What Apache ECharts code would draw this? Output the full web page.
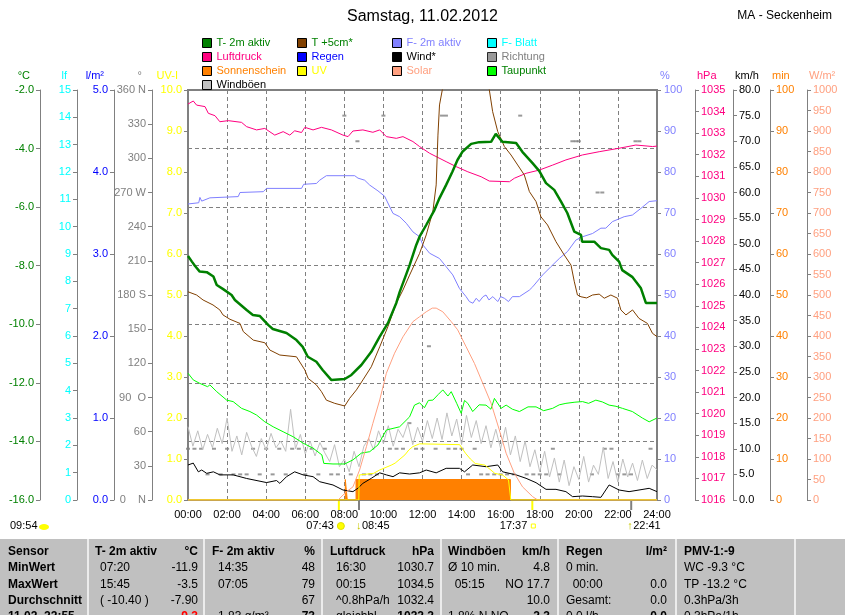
<!DOCTYPE html>
<html>
<head>
<meta charset="utf-8">
<title>Samstag, 11.02.2012</title>
<script src="https://cdn.jsdelivr.net/npm/echarts@6/dist/echarts.min.js"></script>
<style>
html, body { margin: 0; padding: 0; background: #fff; }
#chart { width: 845px; height: 615px; }
</style>
</head>
<body>
<div id="chart"></div>
<script>
var FONT = '"Liberation Sans", Arial, sans-serif';

// Zeit in Stunden (0..24)
// T- 2m aktiv (°C)
var t2Time = [0, 0.2, 0.36, 0.6, 0.96, 1.3, 1.47, 1.8, 2.23, 2.4, 3.0, 3.32, 3.68, 4.1, 4.34, 5.04, 5.55, 5.87, 6.13, 6.57, 6.89, 7.33, 8.02, 8.36, 8.87, 9.38, 9.81, 10.23, 10.66, 10.83, 11.34, 11.68, 11.85, 12.19, 12.61, 12.87, 13.21, 13.53, 13.79, 14.04, 14.49, 14.9, 15.51, 15.75, 16.09, 16.79, 17.11, 17.62, 17.98, 18.32, 18.74, 19.09, 19.41, 19.77, 20.11, 20.17, 20.79, 21.13, 21.55, 21.71, 22.06, 22.22, 22.73, 23.17, 23.43, 24];
var t2Val = [-7.67, -7.86, -8.01, -8.2, -8.22, -8.37, -8.66, -8.8, -9.0, -9.17, -9.51, -9.68, -9.72, -10.02, -10.16, -10.3, -10.54, -10.77, -11.11, -11.28, -11.56, -11.9, -11.87, -11.73, -11.39, -10.94, -10.42, -9.96, -9.27, -8.9, -7.98, -7.29, -7.01, -6.61, -6.1, -5.69, -5.24, -4.79, -4.39, -4.11, -3.84, -3.78, -3.77, -3.5, -3.77, -3.81, -4.11, -4.49, -4.77, -5.18, -5.41, -5.81, -6.2, -6.84, -6.95, -7.18, -7.18, -7.4, -7.46, -7.63, -7.86, -8.15, -8.38, -8.76, -9.27, -9.27];

// T +5cm* (°C)
var t5Time = [0, 0.44, 0.77, 1.28, 1.63, 1.79, 2.15, 2.66, 2.83, 3.34, 3.93, 4.19, 4.7, 5.55, 5.98, 6.15, 6.57, 6.83, 7.08, 7.51, 8.02, 8.27, 8.62, 8.95, 9.38, 9.81, 10.23, 10.66, 11.0, 11.34, 11.85, 12.19, 12.53, 12.7, 12.79, 12.87, 13.04, 13.3, 14.0, 14.8, 15.42, 15.59, 15.85, 16.19, 16.53, 16.87, 17.21, 17.47, 17.81, 18.06, 18.4, 18.83, 19.25, 19.6, 19.77, 19.93, 20.11, 20.4, 20.7, 21.04, 21.3, 21.64, 21.98, 22.15, 22.41, 22.75, 23.08, 23.51, 23.77, 24];
var t5Val = [-8.89, -9.0, -9.17, -9.34, -9.51, -9.68, -9.83, -9.97, -10.25, -10.54, -10.63, -10.88, -11.05, -11.11, -11.56, -11.85, -12.07, -12.3, -12.59, -12.7, -12.79, -12.53, -12.24, -11.9, -11.45, -10.77, -10.08, -9.28, -8.83, -8.32, -7.58, -6.95, -6.15, -5.24, -3.54, -2.51, -1.9, -0.5, 2.0, 0.5, -2.0, -2.74, -3.42, -3.93, -4.22, -4.56, -4.9, -5.47, -5.81, -6.33, -6.61, -7.18, -7.63, -7.98, -8.55, -9.0, -9.06, -9.1, -9.0, -8.97, -9.11, -9.0, -9.11, -9.51, -9.68, -9.51, -9.8, -9.97, -10.31, -10.42];

// F- 2m aktiv (%)
var humTime = [0, 0.55, 0.61, 0.7, 1.12, 2.57, 2.66, 3.85, 4.02, 5.81, 5.92, 6.57, 6.74, 7.08, 8.53, 8.7, 9.04, 9.3, 9.72, 10.06, 10.49, 10.83, 11.17, 11.51, 11.85, 12.02, 12.36, 12.87, 13.21, 13.55, 13.89, 14.23, 14.4, 14.58, 14.75, 14.9, 15.1, 15.25, 15.4, 15.6, 15.85, 16.0, 16.19, 16.4, 16.6, 16.96, 17.47, 17.64, 18.15, 18.57, 19.0, 19.42, 19.85, 20.19, 20.7, 21.13, 21.38, 21.72, 22.32, 22.74, 23.17, 23.6, 24];
var humVal = [72.2, 72.5, 73.8, 72.9, 73.7, 74, 75, 75.2, 76, 76, 77, 77.2, 78, 79.1, 79.1, 78.5, 78, 76.8, 75.4, 74.1, 69.9, 69.1, 67.5, 65.4, 64.2, 62.2, 60.2, 58.9, 56.9, 54.9, 51.6, 49.6, 48.4, 48, 49.2, 48.4, 49.6, 50, 48.8, 49.6, 48.4, 49.6, 49.2, 48.4, 49.6, 49.6, 51.2, 52, 54.9, 56.9, 58.9, 60.6, 63.4, 64.2, 65, 66.3, 66.3, 67.9, 69.1, 69.5, 71.1, 72.8, 73];

// Luftdruck (hPa)
var presTime = [0, 0.27, 0.44, 0.87, 1.04, 1.38, 1.63, 2.06, 2.74, 3.0, 3.51, 3.93, 4.44, 4.87, 5.21, 5.46, 5.81, 5.98, 6.4, 6.83, 7.34, 7.93, 8.19, 8.44, 8.95, 9.46, 9.81, 10.15, 10.66, 11.0, 11.51, 11.85, 12.36, 13.21, 13.72, 14.32, 15.0, 15.42, 16.45, 16.7, 17.3, 17.98, 18.66, 19.34, 20.19, 21.04, 22.06, 22.92, 23.77, 24];
var presVal = [1034.35, 1034.49, 1034.3, 1034.23, 1033.92, 1033.81, 1033.53, 1033.58, 1033.5, 1033.3, 1033.15, 1033.22, 1032.91, 1033.07, 1032.91, 1033.11, 1033.03, 1033.27, 1033.15, 1033.27, 1033.15, 1032.91, 1032.84, 1033.1, 1033.15, 1033.04, 1033.15, 1032.84, 1032.76, 1032.84, 1032.61, 1032.38, 1032.07, 1031.68, 1031.45, 1031.21, 1030.98, 1030.78, 1030.75, 1030.91, 1031.14, 1031.29, 1031.52, 1031.76, 1031.99, 1032.14, 1032.3, 1032.45, 1032.38, 1032.4];

// Solar (W/m²)
var solTime = [0, 7.68, 8.1, 8.44, 8.78, 9.13, 9.46, 9.81, 10.15, 10.57, 11.0, 11.51, 11.85, 12.19, 12.5, 12.7, 13.04, 13.47, 13.8, 14.23, 14.66, 15.08, 15.51, 15.93, 16.28, 16.7, 17.12, 17.64, 17.9, 24];
var solVal = [0, 0, 20, 32, 73, 130, 187, 244, 309, 358, 398, 435, 447, 459, 468, 468, 459, 435, 415, 374, 333, 285, 236, 171, 114, 65, 32, 8, 0, 0];

// UV-Index
var uvTime = [0, 8.74, 8.76, 9.5, 9.8, 10.4, 10.6, 11.1, 11.3, 11.5, 11.85, 13.9, 14.2, 14.45, 14.7, 15.2, 15.7, 16.1, 16.4, 16.5, 16.52, 24];
var uvVal = [0, 0, 0.61, 0.65, 0.73, 0.85, 0.9, 1.1, 1.22, 1.3, 1.37, 1.35, 1.14, 1.0, 0.89, 0.85, 0.65, 0.61, 0.49, 0.49, 0, 0];

// Sonnenschein (min)
var sunTime = [0, 8.05, 8.05, 8.15, 8.15, 8.6, 8.6, 16.5, 16.5, 24];
var sunVal = [0, 0, 5, 5, 0, 0, 5, 5, 0, 0];

// Wind* (km/h)
var windTime = [0, 0.27, 0.53, 0.7, 0.96, 1.3, 1.63, 2.31, 3.0, 4.02, 4.53, 4.7, 5.04, 5.46, 5.89, 6.4, 6.74, 7.42, 7.93, 8.44, 8.7, 8.95, 9.38, 9.81, 10.15, 10.49, 10.83, 11.34, 11.85, 12.19, 12.7, 13.21, 13.89, 14.15, 14.57, 15.25, 15.85, 16.1, 16.79, 17.3, 17.81, 18.32, 18.83, 19.34, 19.68, 20.19, 20.7, 21.13, 21.55, 22.06, 22.57, 23.08, 23.6, 24];
var windVal = [6.83, 7.2, 5.5, 5.85, 5.2, 5.5, 4.9, 4.9, 4.2, 3.4, 3.8, 3.25, 4.55, 5.5, 4.9, 4.55, 3.57, 2.93, 1.95, 1.63, 2.3, 3.25, 4.23, 5.3, 4.9, 4.55, 5.3, 5.07, 5.3, 5.85, 5.3, 6.18, 6.18, 5.5, 6.83, 6.5, 6.83, 5.5, 4.9, 4.23, 3.38, 2.08, 2.08, 1.63, 0.65, 0.78, 0.65, 0.52, 2.93, 1.95, 1.63, 1.95, 2.28, 1.63];

// Windböen (km/h)
var gustTime = [0, 0.25, 0.5, 0.75, 1, 1.25, 1.5, 1.75, 2, 2.25, 2.5, 2.75, 3, 3.25, 3.5, 3.75, 4, 4.25, 4.5, 4.75, 5, 5.25, 5.5, 5.75, 6, 6.25, 6.5, 6.75, 7, 7.25, 7.5, 7.75, 8, 8.25, 8.5, 8.75, 9, 9.25, 9.5, 9.75, 10, 10.25, 10.5, 10.75, 11, 11.25, 11.5, 11.75, 12, 12.25, 12.5, 12.75, 13, 13.25, 13.5, 13.75, 14, 14.25, 14.5, 14.75, 15, 15.25, 15.5, 15.75, 16, 16.25, 16.5, 16.75, 17, 17.25, 17.5, 17.75, 18, 18.25, 18.5, 18.75, 19, 19.25, 19.5, 19.75, 20, 20.25, 20.5, 20.75, 21, 21.25, 21.5, 21.75, 22, 22.25, 22.5, 22.75, 23, 23.25, 23.5, 23.75, 24];
var gustVal = [14.3, 10.5, 13.5, 9.8, 12.8, 10.2, 14.0, 11.0, 16.0, 9.5, 12.5, 8.8, 13.2, 10.5, 8.5, 12.0, 9.8, 13.0, 10.2, 11.5, 9.5, 17.7, 10.0, 12.8, 9.0, 11.5, 8.6, 11.2, 9.2, 7.5, 10.8, 6.5, 8.0, 5.5, 9.5, 6.5, 10.5, 12.0, 9.8, 13.5, 11.0, 14.5, 10.5, 13.8, 12.2, 15.0, 10.8, 14.2, 11.5, 15.5, 12.0, 16.0, 11.8, 17.0, 12.5, 15.8, 10.8, 16.5, 12.2, 15.5, 11.0, 14.5, 10.2, 13.8, 10.0, 14.2, 8.8, 12.5, 7.5, 11.5, 6.5, 9.8, 5.5, 9.5, 4.5, 8.2, 3.5, 7.8, 2.8, 6.5, 4.0, 8.5, 3.5, 6.8, 5.0, 10.3, 4.2, 7.5, 3.5, 8.0, 4.5, 7.2, 3.8, 7.8, 4.2, 6.8, 5.9];

// Taupunkt (°C)
var dewTime = [0, 0.27, 0.61, 1.0, 1.12, 1.47, 1.98, 2.31, 2.74, 3.17, 3.51, 3.93, 4.36, 4.87, 5.38, 5.89, 6.4, 6.85, 6.95, 7.42, 8.02, 8.44, 8.87, 9.3, 9.72, 10.15, 10.83, 11.34, 11.59, 11.85, 12.1, 12.3, 12.53, 12.8, 13.04, 13.3, 13.47, 13.75, 13.98, 14.15, 14.32, 14.57, 14.9, 15.25, 15.5, 15.68, 16.02, 16.28, 16.6, 16.96, 17.4, 17.81, 18.2, 18.66, 19.0, 19.34, 19.8, 20.19, 20.5, 20.87, 21.2, 21.55, 21.9, 22.23, 22.74, 23.25, 23.6, 24];
var dewVal = [-11.67, -11.9, -12.02, -12.13, -12.07, -12.3, -12.59, -12.64, -12.87, -12.98, -13.1, -13.33, -13.5, -13.67, -13.84, -14.06, -14.23, -14.46, -14.75, -14.77, -14.77, -14.63, -14.4, -14.35, -14.12, -13.61, -13.5, -13.16, -12.76, -12.68, -12.85, -12.6, -12.59, -12.4, -12.24, -12.45, -12.3, -12.7, -13.04, -12.6, -12.7, -12.98, -12.75, -12.76, -12.9, -12.53, -12.87, -12.76, -12.9, -12.98, -12.82, -12.82, -12.95, -12.87, -12.75, -12.7, -12.66, -12.64, -12.7, -12.59, -12.65, -12.76, -12.8, -12.87, -12.98, -13.2, -13.33, -13.2];

// Richtung (°)
var dirTime = [0, 0.33, 0.67, 1, 1.33, 1.67, 2, 2.33, 2.67, 3, 3.33, 3.67, 4, 4.33, 4.67, 5, 5.33, 5.67, 6, 6.33, 6.67, 7, 7.33, 7.67, 8, 8.33, 8.67, 9, 9.33, 9.67, 10, 10.33, 10.67, 11, 11.33, 11.67, 12, 12.33, 12.67, 13, 13.2, 13.33, 13.67, 14, 14.33, 14.67, 15, 15.33, 15.67, 16, 16.33, 16.67, 17, 17.33, 17.67, 18, 18.33, 18.67, 19, 19.67, 19.85, 20, 20.67, 20.96, 21.2, 21.33, 21.67, 22, 22.33, 22.67, 22.9, 23.1, 23.67];
var dirVal = [45, 45, 45, 22.5, 45, 22.5, 45, 22.5, 22.5, 22.5, 45, 22.5, 45, 22.5, 45, 22.5, 45, 45, 22.5, 45, 22.5, 45, 22.5, 22.5, 337.5, 22.5, 315, 22.5, 22.5, 22.5, 337.5, 45, 45, 45, 67.5, 45, 45, 135, 45, 337.5, 337.5, 45, 45, 45, 22.5, 45, 22.5, 22.5, 22.5, 22.5, 22.5, 22.5, 337.5, 22.5, 22.5, 22.5, 22.5, 45, 22.5, 315, 315, 315, 22.5, 270, 270, 45, 45, 22.5, 22.5, 22.5, 315, 315, 45];

// Beschriftung Richtungsachse
var dirTicks = { 0: '0    N', 90: '90  O', 180: '180 S', 270: '270 W', 360: '360 N' };

// Sonne / Mond Zeiten unter der Zeitachse
var sunRise = { t: 7.72, label: '07:43' };
var moonSet = { t: 8.75, label: '08:45' };
var sunSet = { t: 17.62, label: '17:37' };
var moonRise = { t: 22.68, label: '22:41' };

// Tabelle
var tableHead = ['Sensor', 'T- 2m aktiv', '°C', 'F- 2m aktiv', '%', 'Luftdruck', 'hPa', 'Windböen', 'km/h', 'Regen', 'l/m²', 'PMV-1:-9'];
var tableRows = [
    ['MinWert', '07:20', '-11.9', '14:35', '48', '16:30', '1030.7', 'Ø 10 min.', '4.8', '0 min.', '', 'WC -9.3 °C'],
    ['MaxWert', '15:45', '-3.5', '07:05', '79', '00:15', '1034.5', '  05:15', 'NO 17.7', '  00:00', '0.0', 'TP -13.2 °C'],
    ['Durchschnitt', '( -10.40 )', '-7.90', '', '67', '^0.8hPa/h', '1032.4', '', '10.0', 'Gesamt:', '0.0', '0.3hPa/3h'],
    ['11.02. 22:55', '', '-9.3', '1.83 g/m³', '73', 'gleichbl.', '1032.2', '1.8% N NO', '2.3', '0.0 l/h', '0.0', '0.3hPa/1h']
];

function pairs(xs, ys) {
    return xs.map(function (x, i) { return [x, ys[i]]; });
}

var chart = echarts.init(document.getElementById('chart'));

// eine y-Achse
function yAx(pos, offset, min, max, step, color, name, fmt) {
    return {
        type: 'value', position: pos, offset: offset,
        min: min, max: max, interval: step,
        name: name, nameLocation: 'end', nameGap: 9,
        nameTextStyle: {
            color: color, fontSize: 11, fontFamily: FONT,
            align: pos === 'left' ? 'right' : 'left',
            padding: pos === 'left' ? [0, 10, 0, 0] : [0, 0, 0, 2]
        },
        axisLine: { show: true, onZero: false, lineStyle: { color: '#808080', width: 1 } },
        axisTick: { show: true, length: 4, lineStyle: { color: '#808080' } },
        axisLabel: { color: color, fontSize: 11, fontFamily: FONT, margin: 6, formatter: fmt || plain },
        splitLine: { show: false }
    };
}
function f1(v) { return v.toFixed(1); }
function plain(v) { return String(v); }

var tempAxis = yAx('left', 148, -16, -2, 2, '#008000', '°C', f1);
tempAxis.splitLine = { show: true, lineStyle: { color: '#808080', type: [4, 3], width: 1 } };

var yAxes = [
    tempAxis,                                                              // 0 °C
    yAx('left', 111, 0, 15, 1, '#00ffff', 'lf'),                           // 1 Blattfeuchte
    yAx('left', 74, 0, 5, 1, '#0000ff', 'l/m²', f1),                       // 2 Regen
    yAx('left', 36, 0, 360, 30, '#808080', '°', function (v) { return dirTicks[v] || String(v); }), // 3 Richtung
    yAx('left', 0, 0, 10, 1, '#ffff00', 'UV-I', f1),                       // 4 UV
    yAx('right', 0, 0, 100, 10, '#8080ff', '%'),                           // 5 Feuchte
    yAx('right', 38, 1016, 1035, 1, '#ff0080', 'hPa'),                     // 6 Luftdruck
    yAx('right', 76, 0, 80, 5, '#000000', 'km/h', f1),                     // 7 Wind
    yAx('right', 113, 0, 100, 10, '#ff8000', 'min'),                       // 8 Sonnenschein
    yAx('right', 150, 0, 1000, 50, '#ffa080', 'W/m²')                      // 9 Solar
];
yAxes[5].nameTextStyle.padding = [0, 0, 0, 3];
yAxes[5].axisLabel.margin = 7;

function lineSeries(name, data, yIdx, color, width) {
    return {
        name: name, type: 'line', yAxisIndex: yIdx, data: data,
        showSymbol: false, symbol: 'none', animation: false,
        itemStyle: { color: color },
        lineStyle: { color: color, width: width || 1 },
        emphasis: { disabled: true }
    };
}

var legendText = {
    'T- 2m aktiv': '#008000', 'T +5cm*': '#008000', 'F- 2m aktiv': '#8080ff', 'F- Blatt': '#00ffff',
    'Luftdruck': '#ff0080', 'Regen': '#0000ff', 'Wind*': '#000000', 'Richtung': '#808080',
    'Sonnenschein': '#ff8000', 'UV': '#ffff00', 'Solar': '#ffa080', 'Taupunkt': '#008000',
    'Windböen': '#000000'
};
function legendCol(left, names) {
    return {
        orient: 'vertical', left: left, top: 31,
        itemWidth: 9, itemHeight: 9, itemGap: 0, icon: 'rect',
        selectedMode: false,
        itemStyle: { borderColor: '#000', borderWidth: 1 },
        textStyle: { fontSize: 11, fontFamily: FONT, lineHeight: 14 },
        data: names.map(function (n) { return { name: n, textStyle: { color: legendText[n] } }; })
    };
}

var sunSeries = lineSeries('Sonnenschein', pairs(sunTime, sunVal), 8, '#ff8000', 1);
sunSeries.areaStyle = { color: '#ff8000', opacity: 1 };

var dirSeries = {
    name: 'Richtung', type: 'scatter', yAxisIndex: 3, data: pairs(dirTime, dirVal),
    symbol: 'rect', symbolSize: [4, 2], animation: false,
    itemStyle: { color: '#808080' }, emphasis: { disabled: true }
};

var option = {
    backgroundColor: '#ffffff',
    animation: false,
    textStyle: { fontFamily: FONT },
    title: [
        { text: 'Samstag, 11.02.2012', left: 'center', top: 4,
          textStyle: { fontSize: 16, fontWeight: 'normal', color: '#000', fontFamily: FONT } },
        { text: 'MA - Seckenheim', right: 8, top: 5,
          textStyle: { fontSize: 12, fontWeight: 'normal', color: '#000', fontFamily: FONT } }
    ],
    legend: [
        legendCol(197, ['T- 2m aktiv', 'Luftdruck', 'Sonnenschein', 'Windböen']),
        legendCol(292, ['T +5cm*', 'Regen', 'UV']),
        legendCol(387, ['F- 2m aktiv', 'Wind*', 'Solar']),
        legendCol(482, ['F- Blatt', 'Richtung', 'Taupunkt'])
    ],
    grid: {
        left: 188, right: 188, top: 90, bottom: 115,
        show: true, borderColor: '#808080', borderWidth: 2,
        outerBoundsMode: 'none'
    },
    xAxis: {
        type: 'value', min: 0, max: 24, interval: 2,
        axisLine: { show: true, lineStyle: { color: '#808080', width: 2 } },
        axisTick: { show: false },
        axisLabel: {
            color: '#000', fontSize: 11, fontFamily: FONT, margin: 9,
            formatter: function (v) { return (v < 10 ? '0' : '') + v + ':00'; }
        },
        splitLine: { show: true, lineStyle: { color: '#808080', type: [4, 3], width: 1 } }
    },
    yAxis: yAxes,
    series: [
        sunSeries,
        lineSeries('Windböen', pairs(gustTime, gustVal), 7, '#c0c0c0', 1),
        dirSeries,
        lineSeries('Wind*', pairs(windTime, windVal), 7, '#000000', 1),
        lineSeries('Taupunkt', pairs(dewTime, dewVal), 0, '#00ff00', 1),
        lineSeries('Solar', pairs(solTime, solVal), 9, '#ffa080', 1),
        lineSeries('UV', pairs(uvTime, uvVal), 4, '#ffff00', 1),
        lineSeries('F- 2m aktiv', pairs(humTime, humVal), 5, '#8080ff', 1),
        lineSeries('Luftdruck', pairs(presTime, presVal), 6, '#ff0080', 1),
        lineSeries('T +5cm*', pairs(t5Time, t5Val), 0, '#804000', 1),
        lineSeries('T- 2m aktiv', pairs(t2Time, t2Val), 0, '#008000', 2.5),
        lineSeries('F- Blatt', [], 1, '#00ffff', 1),
        lineSeries('Regen', [], 2, '#0000ff', 1)
    ]
};

chart.setOption(option);

// Markierungen unter der Zeitachse und Tabelle
var els = [];
function txt(x, y, s, color, font, align) {
    els.push({ type: 'text', x: x, y: y, silent: true,
        style: { text: s, fill: color || '#000', font: font || ('11px ' + FONT), align: align || 'left', verticalAlign: 'middle' } });
}
function tick(x, color) {
    els.push({ type: 'line', silent: true, shape: { x1: x, y1: 501, x2: x, y2: 510 }, style: { stroke: color, lineWidth: 2 } });
}
var px = function (h) { return chart.convertToPixel({ xAxisIndex: 0 }, h); };

var xr = px(sunRise.t), xms = px(moonSet.t), xs = px(sunSet.t), xmr = px(moonRise.t);
tick(xr, '#ffff00'); tick(xms, '#808080'); tick(xs, '#ffff00'); tick(xmr, '#808080');
txt(xr - 5, 526, sunRise.label, '#000', null, 'right');
els.push({ type: 'circle', silent: true, shape: { cx: xr + 2, cy: 526, r: 3.5 }, style: { fill: '#ffff00', stroke: '#e0e000' } });
txt(xms - 3, 526, '↓', '#c8c800', '11px ' + FONT, 'left');
txt(xms + 3, 526, moonSet.label, '#000', null, 'left');
txt(xs - 5, 526, sunSet.label, '#000', null, 'right');
els.push({ type: 'rect', silent: true, shape: { x: xs - 1, y: 524, width: 4, height: 4 }, style: { fill: 'none', stroke: '#ffff00', lineWidth: 1 } });
txt(xmr - 4, 526, '↑', '#c8c800', '11px ' + FONT, 'left');
txt(xmr + 2, 526, moonRise.label, '#000', null, 'left');
txt(10, 526, '09:54', '#000', null, 'left');
els.push({ type: 'ellipse', silent: true, shape: { cx: 44, cy: 527, rx: 5, ry: 3 }, style: { fill: '#ffff00' } });

// Tabelle unten
var tableTop = 539;
els.push({ type: 'rect', silent: true, shape: { x: 0, y: tableTop, width: 845, height: 80 }, style: { fill: '#c0c0c0' } });
[88, 204, 322, 441, 558, 676, 795].forEach(function (x) {
    els.push({ type: 'line', silent: true, shape: { x1: x, y1: tableTop, x2: x, y2: 615 }, style: { stroke: '#ececec', lineWidth: 2 } });
});
var rowY = [552, 568, 585, 601, 617];
var headLeft = [95, 212, 330, 448, 566];
var valLeft = [100, 218, 336, 448, 566];
var colRight = [198, 315, 434, 550, 667];
var BOLD = 'bold 12px ' + FONT, NORM = '12px ' + FONT;

txt(8, rowY[0], tableHead[0], '#000', BOLD);
for (var c = 0; c < 5; c++) {
    txt(headLeft[c], rowY[0], tableHead[1 + c * 2], '#000', BOLD);
    txt(colRight[c], rowY[0], tableHead[2 + c * 2], '#000', BOLD, 'right');
}
txt(684, rowY[0], tableHead[11], '#000', BOLD);

tableRows.forEach(function (row, r) {
    var y = rowY[r + 1];
    var last = r === tableRows.length - 1;
    txt(8, y, row[0], '#000', BOLD);
    for (var c = 0; c < 5; c++) {
        txt(valLeft[c], y, row[1 + c * 2], '#000', NORM);
        var col = (last && c === 0) ? '#ff0000' : '#000';
        txt(colRight[c], y, row[2 + c * 2], col, last ? BOLD : NORM, 'right');
    }
    txt(684, y, row[11], '#000', NORM);
});

chart.setOption({ graphic: els });
</script>
</body>
</html>
